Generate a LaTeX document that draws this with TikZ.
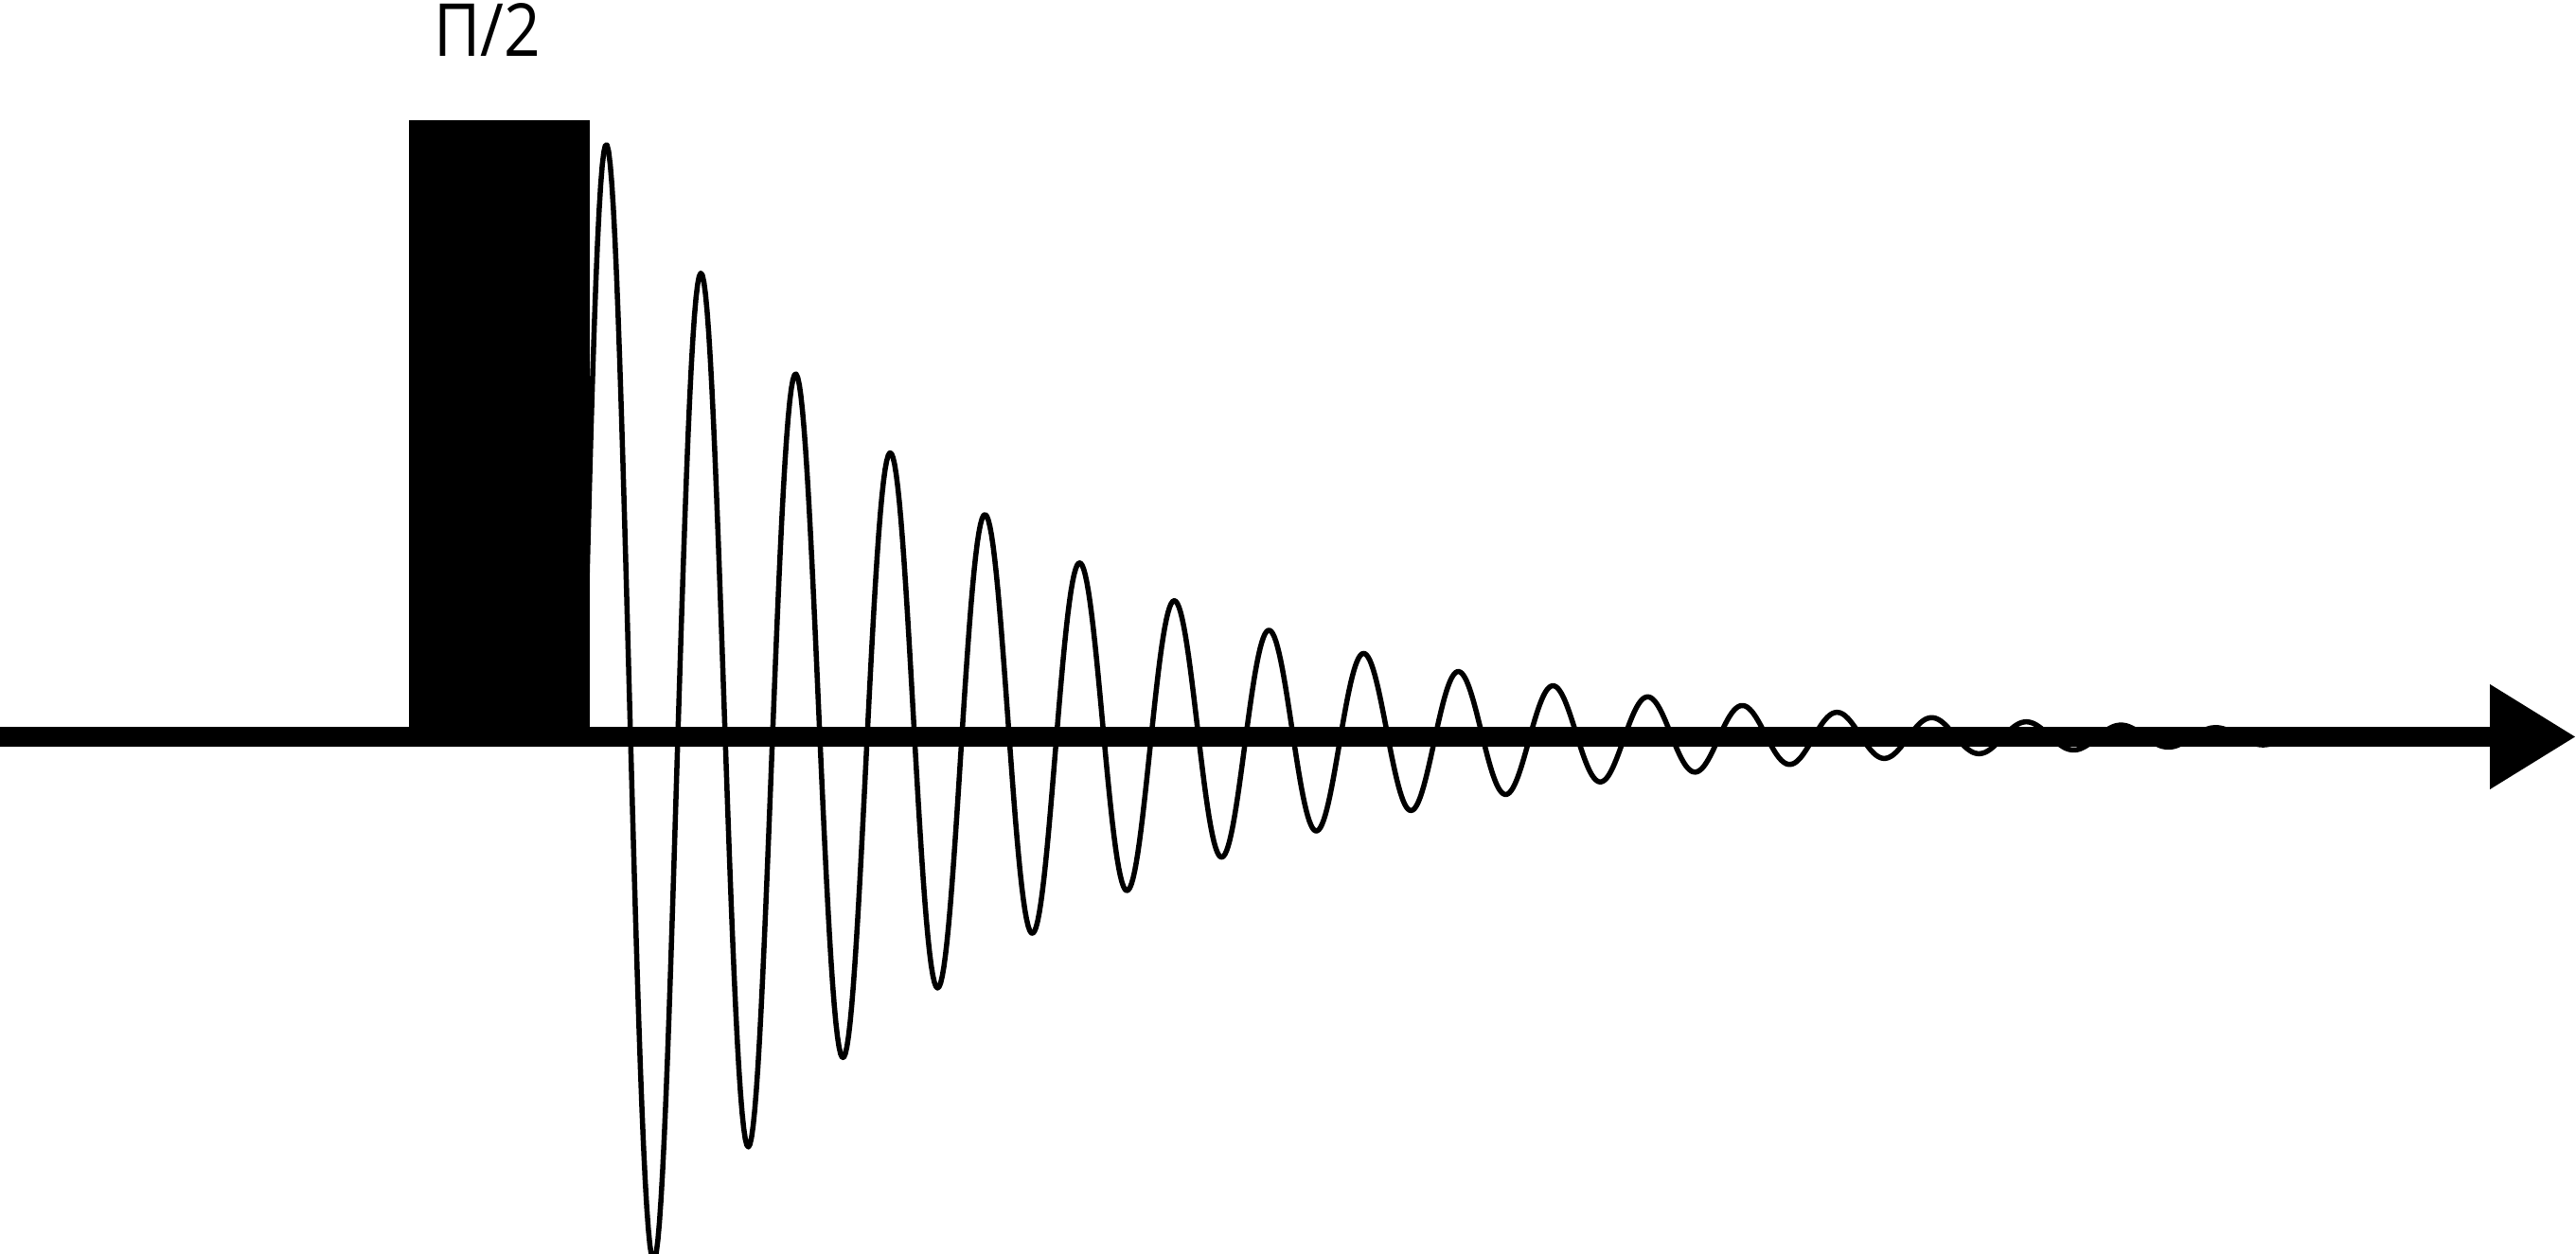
\documentclass[tikz,border=0pt]{standalone}
\usepackage{fontspec}
\setsansfont{Open Sans}
\usetikzlibrary{arrows.meta}
\newcommand*{\axend }{27.21}
\newcommand*{\pulseL}{4.32}
\newcommand*{\pulseR}{6.23}
\newcommand*{\pulseH}{6.515}
\newcommand*{\fidT  }{6.16}
\newcommand*{\fidE  }{26.3}
\newcommand*{\fidA  }{6.65}
\newcommand*{\fidtau}{4.08}

\begin{document}
\begin{tikzpicture}[font=\sffamily,
    axis/.style={line width=2.1mm, -{Triangle[length=9.1mm,width=10.5mm]}},
    fid/.style={line width=0.55mm, line join=round}]
        \useasboundingbox (0,-5.465) rectangle (\axend,7.785);
        \coordinate (origin) at (0,0);
        \coordinate (tip) at (\axend,0);
        \fill (\pulseL,0) rectangle (\pulseR,\pulseH);
        \draw [fid] plot [domain=\fidT:\fidE, samples=1200] (\x,{\fidA*exp(-(\x-\fidT)/\fidtau)*sin(360*(\x-\fidT))});
        \draw [axis] (origin) -- (tip);
        \node [anchor=base] (pulselabel) at (5.145,7.185) {\scalebox{0.875}[1]{\fontsize{22}{26}\selectfont Π/2}};
    \end{tikzpicture}
\end{document}
